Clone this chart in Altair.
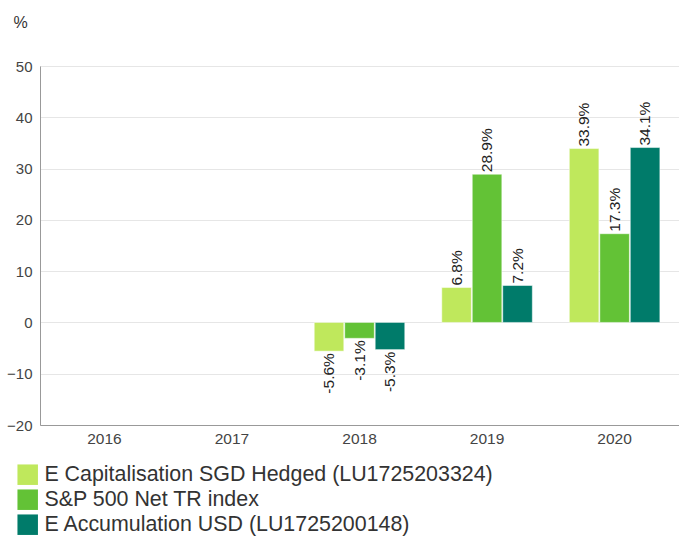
import altair as alt
import pandas as pd

years = ["2016", "2017", "2018", "2019", "2020"]
series = ["E Capitalisation SGD Hedged (LU1725203324)", "S&P 500 Net TR index", "E Accumulation USD (LU1725200148)"]
colors = ["#bfe85c", "#63c236", "#007b6a"]
data_years = ["2018", "2019", "2020"]
s1 = [-5.6, 6.8, 33.9]
s2 = [-3.1, 28.9, 17.3]
s3 = [-5.3, 7.2, 34.1]

rows = []
for vals, s in zip([s1, s2, s3], series):
    for y, v in zip(data_years, vals):
        rows.append({"year": y, "series": s, "value": v, "label": f"{v:.1f}%"})
df = pd.DataFrame(rows)

x = alt.X("year:N", scale=alt.Scale(domain=years, paddingInner=0.29, paddingOuter=0.15),
          axis=alt.Axis(title=None, labelAngle=0, labelFontSize=15.5, labelColor="#444",
                        domainColor="#999", ticks=False, labelPadding=6, grid=False))
xo = alt.XOffset("series:N", scale=alt.Scale(domain=series, paddingInner=0.03))
yenc = alt.Y("value:Q", scale=alt.Scale(domain=[-20, 50], nice=False),
             axis=alt.Axis(values=list(range(-20, 51, 10)), title="%", titleAngle=0,
                           titleAlign="left", titleBaseline="alphabetic", titleX=-27, titleY=-39,
                           titleFontSize=16, titleFontWeight="normal", titleColor="#333",
                           labelFontSize=15, labelColor="#444", domainColor="#999",
                           ticks=False, labelPadding=8, gridColor="#e6e6e6"))
color = alt.Color("series:N", scale=alt.Scale(domain=series, range=colors),
                  legend=alt.Legend(title=None, orient="none", legendX=-23, legendY=398,
                                    symbolType="square", symbolSize=420, symbolStrokeWidth=0,
                                    labelFontSize=21.4, labelColor="#333", rowPadding=2,
                                    labelOffset=6, labelLimit=650, symbolOpacity=1,
                                    direction="vertical"))

bars = alt.Chart(df).mark_bar(opacity=1, stroke="white", strokeWidth=0.5).encode(
    x=x, xOffset=xo, y=yenc, color=color)

pos = alt.Chart(df).transform_filter("datum.value >= 0").mark_text(
    angle=270, align="left", baseline="middle", dx=2, fontSize=15.5, color="#222").encode(
    x=x, xOffset=xo, y="value:Q", text="label:N")
neg = alt.Chart(df).transform_filter("datum.value < 0").mark_text(
    angle=270, align="right", baseline="middle", dx=-2, fontSize=15.5, color="#222").encode(
    x=x, xOffset=xo, y="value:Q", text="label:N")

chart = alt.layer(bars, pos, neg).properties(
    width=639, height=359,
    autosize=alt.AutoSizeParams(type="none"),
    padding={"left": 40, "top": 66, "right": 0, "bottom": 111},
).configure_view(stroke=None).configure(font="Liberation Sans", background="white")

chart.save("out.html", embed_options={"renderer": "svg", "actions": False})
